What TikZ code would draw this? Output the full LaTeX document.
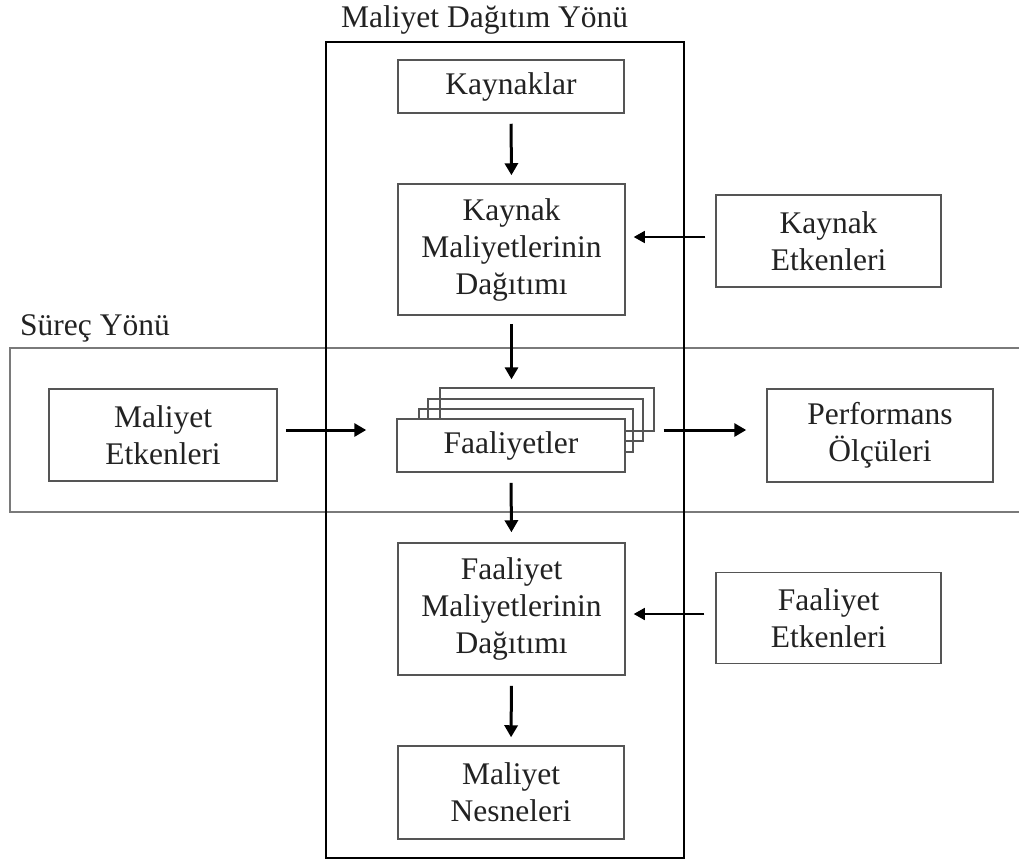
\documentclass[tikz,border=0pt]{standalone}
\usepackage{fontspec}
\setmainfont{Liberation Serif}
\usetikzlibrary{arrows.meta}
\definecolor{boxgray}{HTML}{555555}
\definecolor{bandgray}{HTML}{7A7A7A}
\definecolor{txt}{HTML}{222222}
\tikzset{
  stepbox/.style={draw=boxgray, line width=1.5pt, fill=white, align=center, inner sep=0pt,
    text=txt, font=\fontsize{31.5}{37}\selectfont},
  backbox/.style={draw=boxgray, line width=1.3pt, inner sep=0pt},
  bigarrow/.style={draw=black, line width=3pt, -{Triangle[length=12pt,width=13pt]}},
  thinarrow/.style={draw=bandgray, line width=1.5pt, -{Triangle[length=11pt,width=12pt]}, black},
  lbl/.style={text=txt, font=\fontsize{31.5}{37}\selectfont, inner sep=0pt}
}
\begin{document}
\begin{tikzpicture}[x=1pt,y=-1pt]
\useasboundingbox (0,0) rectangle (1019,863);
\fill[white] (0,0) rectangle (1019,863);
% process band
\draw[bandgray, line width=1.7pt] (1019,348) -- (10,348) -- (10,512) -- (1019,512);
% cost allocation column
\draw[black, line width=1.6pt] (326,42) rectangle (684,858);
\node[lbl, anchor=base west] (t1) at (341,27) {Maliyet Dağıtım Yönü};
\node[lbl, anchor=base west] (t2) at (20,335) {Süreç Yönü};

\node[stepbox, minimum width=226pt, minimum height=53pt] (kay) at (511,86.5) {Kaynaklar};
\node[stepbox, minimum width=227pt, minimum height=131pt] (kmd) at (511.5,249.5) {Kaynak\\Maliyetlerinin\\Dağıtımı};
\node[stepbox, minimum width=225pt, minimum height=92pt] (ke) at (828.5,241) {Kaynak\\Etkenleri};
\node[stepbox, minimum width=228pt, minimum height=92pt] (me) at (163,435) {Maliyet\\Etkenleri};

\node[backbox, minimum width=214pt, minimum height=43pt] (b4) at (547,409.5) {};
\node[backbox, minimum width=215pt, minimum height=42pt] (b3) at (535.5,420) {};
\node[backbox, minimum width=214pt, minimum height=43pt] (b2) at (526,430.5) {};
\node[stepbox, minimum width=228pt, minimum height=53pt] (fa) at (511,445.5) {Faaliyetler};

\node[stepbox, minimum width=226pt, minimum height=93pt] (po) at (880,435.5) {Performans\\Ölçüleri};
\node[stepbox, minimum width=227pt, minimum height=132pt] (fmd) at (511.5,609) {Faaliyet\\Maliyetlerinin\\Dağıtımı};
\node[stepbox, minimum width=225pt, minimum height=91pt] (fe) at (828.5,618) {Faaliyet\\Etkenleri};
\node[stepbox, minimum width=226pt, minimum height=93pt] (mn) at (511,792.5) {Maliyet\\Nesneleri};

% connectors
\draw[bigarrow, shorten <=10pt, shorten >=8pt] (kay.south) -- (kmd.north);
\draw[bigarrow, shorten <=8pt, shorten >=8pt] (kmd.south) -- (kmd.south |- b4.north);
\draw[bigarrow, shorten <=10pt, shorten >=10pt] (fa.south) -- (fmd.north);
\draw[bigarrow, shorten <=10pt, shorten >=8pt] (fmd.south) -- (mn.north);
\draw[thinarrow, shorten <=10pt, shorten >=8pt] ([yshift=4pt]ke.west) -- ([yshift=4pt]ke.west -| kmd.east);
\draw[thinarrow, shorten <=11pt, shorten >=8pt] ([yshift=4pt]fe.west) -- ([yshift=4pt]fe.west -| fmd.east);
\draw[bigarrow, shorten <=8pt, shorten >=30pt] ([yshift=5pt]me.east) -- ([yshift=5pt]me.east -| fa.west);
\draw[bigarrow, shorten <=9pt, shorten >=20pt] ([yshift=5pt]b4.east |- me.east) -- ([yshift=5pt]po.west |- me.east);
\end{tikzpicture}
\end{document}
